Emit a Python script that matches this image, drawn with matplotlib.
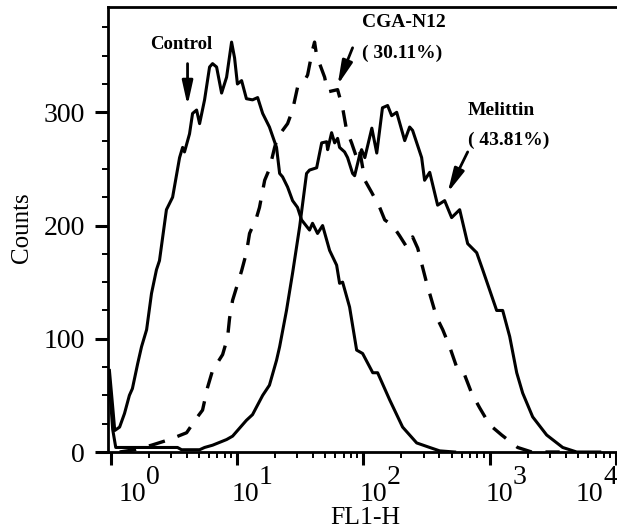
import numpy as np
import matplotlib
matplotlib.use('Agg')
from matplotlib import pyplot as plt
from matplotlib.ticker import MultipleLocator, LogLocator, NullFormatter

plt.rcParams['font.family'] = ['Liberation Serif', 'DejaVu Serif']
plt.rcParams['xtick.direction'] = 'out'
plt.rcParams['ytick.direction'] = 'out'

# histogram traces (FL1-H channel, counts)
control_fl1 = [0.98, 1.04, 1.08, 1.18, 1.29, 1.41, 1.49, 1.64, 1.76, 1.93, 2.11, 2.31, 2.44,
               2.77, 3.10, 3.52, 3.72, 3.85, 4.22, 4.46, 4.80, 5.07, 5.55, 6.08, 6.42, 6.91,
               7.57, 8.29, 9.08, 9.59, 10.1, 10.9, 11.9, 13.3, 14.6, 16.0, 18.1, 20.6, 21.8,
               23.0, 25.2, 27.6, 30.2, 32.5, 37.6, 39.7, 43.5, 47.7, 54.2, 61.6, 65.0, 68.7,
               78.0, 88.7, 98.9, 119, 130, 162, 205, 265, 336, 403, 529]
control_counts = [72, 40, 19, 22, 34, 50, 56, 78, 93, 108, 140, 161, 169,
                  214, 225, 260, 269, 265, 281, 299, 302, 290, 311, 340, 343, 340,
                  317, 331, 362, 348, 325, 328, 312, 311, 313, 299, 287, 269, 246,
                  243, 234, 222, 216, 205, 196, 202, 193, 200, 178, 165, 149, 150,
                  128, 90, 87, 70, 70, 46, 22, 8, 4, 1, 0]

cga_fl1 = [1.18, 1.55, 2.11, 2.93, 4.00, 4.80, 5.35, 5.86, 6.42, 7.71, 8.44, 8.75, 9.25,
           10.9, 11.9, 12.6, 14.3, 15.1, 16.6, 18.1, 19.9, 21.0, 23.0, 25.2, 27.6, 30.2,
           34.4, 36.3, 39.7, 41.2, 42.8, 49.5, 52.3, 62.7, 68.7, 73.9, 80.9, 88.7, 93.6,
           103, 117, 135, 148, 171, 194, 221, 246, 270, 318, 348, 381, 426, 483, 549,
           635, 721, 835, 1002, 1247, 1668, 2155, 3589]
cga_counts = [0, 2, 6, 11, 17, 30, 37, 57, 72, 86, 101, 118, 134,
              160, 176, 193, 207, 216, 240, 250, 269, 278, 284, 290, 302, 322,
              328, 333, 355, 362, 350, 331, 318, 320, 304, 284, 273, 260, 267,
              240, 229, 216, 205, 200, 191, 181, 190, 180, 149, 134, 119, 108, 93, 75,
              68, 52, 39, 24, 15, 4, 0, 0]

melittin_fl1 = [0.98, 1.04, 1.10, 2.04, 3.39, 3.65, 5.07, 5.55, 6.42, 8.29, 9.25, 11.9,
                13.3, 16.0, 18.1, 20.6, 21.8, 24.7, 27.6, 31.4, 35.6, 37.6, 42.8, 46.9,
                51.3, 52.3, 56.2, 59.4, 62.7, 65.0, 71.2, 75.2, 82.4, 85.5, 93.6, 97.1,
                103, 117, 128, 142, 156, 168, 184, 213, 233, 246, 290, 306, 336, 388,
                441, 501, 580, 671, 791, 882, 1002, 1138, 1270, 1443, 1640, 1829, 2194,
                2831, 3793, 4893, 7447]
melittin_counts = [60, 20, 4, 4, 4, 2, 2, 4, 6, 11, 14, 28,
                   33, 50, 59, 81, 93, 125, 158, 199, 246, 249, 251, 273,
                   274, 267, 282, 273, 277, 269, 265, 260, 246, 244, 262, 267,
                   260, 286, 264, 304, 306, 297, 300, 275, 287, 284, 260, 240, 247, 218,
                   222, 207, 214, 184, 176, 161, 143, 125, 125, 102, 70, 52, 31,
                   15, 4, 0, 0]

decades = [0, 1, 2, 3, 4]

fig = plt.figure(figsize=(6.17, 5.28), dpi=100)
ax = fig.add_axes([108 / 617, 76 / 528, 509 / 617, 445 / 528])

ax.plot(control_fl1, control_counts, 'k-', lw=2.2)
ax.plot(melittin_fl1, melittin_counts, 'k-', lw=2.2)
ax.plot(cga_fl1, cga_counts, color='k', lw=2.4, linestyle=(0, (5, 4)))

ax.set_xscale('log')
ax.set_xlim(0.955, 1.02e4)
ax.set_ylim(0, 393)

ax.xaxis.set_major_locator(LogLocator(base=10, numticks=10))
ax.xaxis.set_minor_locator(LogLocator(base=10, subs=np.arange(2, 10), numticks=10))
ax.xaxis.set_minor_formatter(NullFormatter())
ax.yaxis.set_major_locator(MultipleLocator(100))
ax.yaxis.set_minor_locator(MultipleLocator(25))
ax.tick_params(axis='x', which='both', labelbottom=False)
ax.tick_params(which='major', length=9.4, width=2.2)
ax.tick_params(which='minor', length=4, width=1.4)
ax.tick_params(axis='y', labelsize=20, pad=7)

for s in ['left', 'bottom', 'top']:
    ax.spines[s].set_linewidth(2)
ax.spines['right'].set_visible(False)

# decade labels: "10" with a full size exponent, nudged like the original
label_dx = [22, 9, 10, 10, -26]
for e, dx in zip(decades, label_dx):
    ax.annotate('10', xy=(10.0 ** e, 0), xycoords=('data', 'axes fraction'),
                xytext=(dx * 0.72, -49 * 0.72), textcoords='offset points',
                ha='center', va='baseline', fontsize=20, annotation_clip=False)
    ax.annotate(str(e), xy=(10.0 ** e, 0), xycoords=('data', 'axes fraction'),
                xytext=((dx + 20) * 0.72, -32 * 0.72), textcoords='offset points',
                ha='center', va='baseline', fontsize=20, annotation_clip=False)

ax.set_ylabel('Counts', fontsize=18)
ax.yaxis.set_label_coords(-0.147, 0.503)
ax.set_xlabel('FL1-H', fontsize=18.5)
ax.xaxis.set_label_coords(0.505, -0.124)

arrow = dict(arrowstyle='-|>,head_length=0.72,head_width=0.16', color='k', lw=2,
             mutation_scale=20, shrinkA=0, shrinkB=0)
ax.text(3.65, 360, 'Control', fontsize=13.5, fontweight='bold', ha='center', va='center')
ax.annotate('', xy=(4.07, 306), xytext=(4.07, 343), arrowprops=arrow)

ax.text(97.1, 379, 'CGA-N12', fontsize=14, fontweight='bold', ha='left', va='center')
ax.text(97.1, 352, '( 30.11%)', fontsize=14, fontweight='bold', ha='left', va='center')
ax.annotate('', xy=(62.7, 324), xytext=(82.4, 357), arrowprops=arrow)

ax.text(671, 302, 'Melittin', fontsize=14, fontweight='bold', ha='left', va='center')
ax.text(671, 275, '( 43.81%)', fontsize=14, fontweight='bold', ha='left', va='center')
ax.annotate('', xy=(466, 229), xytext=(671, 265), arrowprops=arrow)

fig.savefig('out.png', dpi=100)
